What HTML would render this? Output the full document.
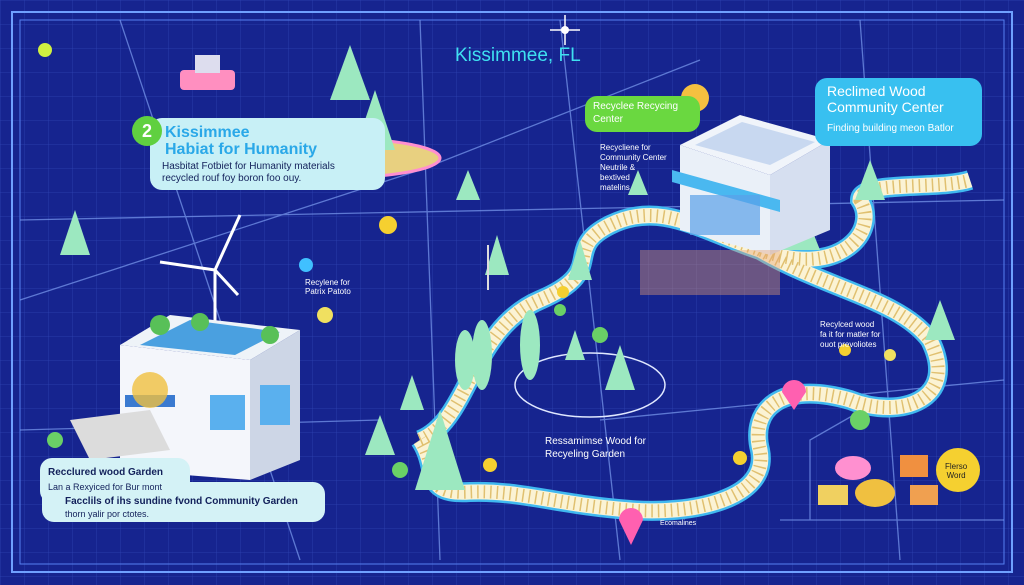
<!DOCTYPE html>
<html><head><meta charset="utf-8"><style>
html,body{margin:0;padding:0;width:1024px;height:585px;overflow:hidden;background:#16248f;font-family:"Liberation Sans",sans-serif}
.card{position:absolute;border-radius:12px;color:#12205a}
</style></head><body>
<svg width="1024" height="585" style="position:absolute;left:0;top:0">
<defs>
<pattern id="g" width="24" height="24" patternUnits="userSpaceOnUse"><path d="M24 0H0V24" fill="none" stroke="#2e44b4" stroke-width="0.7"/></pattern>
</defs>
<rect width="1024" height="585" fill="#16248f"/>
<rect width="1024" height="585" fill="url(#g)"/>
<rect x="12" y="12" width="1000" height="560" fill="none" stroke="#6fa0ff" stroke-width="2"/>
<rect x="20" y="20" width="984" height="544" fill="none" stroke="#5580f0" stroke-width="1"/>
<g stroke="#7c9cf0" stroke-width="1.3" fill="none" opacity="0.7">
<path d="M20 300 L420 170 L700 60"/><path d="M120 20 L200 260 L300 560"/><path d="M420 20 L440 560"/>
<path d="M20 220 L1004 200"/><path d="M560 20 L620 560"/><path d="M860 20 L900 560"/><path d="M20 430 L380 420"/><path d="M600 420 L1004 380"/>
<path d="M780 520 L1004 520"/><path d="M810 520 L810 440 L880 400"/>
</g>
<!-- path -->
<g fill="none">
<path id="p" d="M420 440 C470 420 470 330 540 300 C610 270 560 250 610 225 C660 200 700 230 760 250 C840 280 880 230 860 200 C860 180 940 190 970 180 M760 250 C830 290 900 300 930 340 C960 400 900 420 850 400 C780 380 750 410 760 450 C770 500 690 515 630 510 C560 505 520 490 470 492 C420 495 440 470 420 440" stroke="#40b8f0" stroke-width="20"/>
<path d="M420 440 C470 420 470 330 540 300 C610 270 560 250 610 225 C660 200 700 230 760 250 C840 280 880 230 860 200 C860 180 940 190 970 180 M760 250 C830 290 900 300 930 340 C960 400 900 420 850 400 C780 380 750 410 760 450 C770 500 690 515 630 510 C560 505 520 490 470 492 C420 495 440 470 420 440" stroke="#fbf3d4" stroke-width="15"/>
<path d="M420 440 C470 420 470 330 540 300 C610 270 560 250 610 225 C660 200 700 230 760 250 C840 280 880 230 860 200 C860 180 940 190 970 180 M760 250 C830 290 900 300 930 340 C960 400 900 420 850 400 C780 380 750 410 760 450 C770 500 690 515 630 510 C560 505 520 490 470 492 C420 495 440 470 420 440" stroke="#e0c070" stroke-width="13" stroke-dasharray="1.5 5"/>
</g>
<!-- platform -->
<ellipse cx="330" cy="158" rx="110" ry="20" fill="#e8d080" stroke="#ff8fd0" stroke-width="3"/>
<ellipse cx="590" cy="385" rx="75" ry="32" fill="none" stroke="#e0e8ff" stroke-width="1.5"/>
<!-- trees -->
<g fill="#9ce8c0">
<polygon points="350,45 330,100 370,100"/><polygon points="375,90 355,150 395,150"/><polygon points="75,210 60,255 90,255"/>
<polygon points="468,170 456,200 480,200"/><polygon points="497,235 485,275 509,275"/><polygon points="580,240 568,280 592,280"/>
<ellipse cx="530" cy="345" rx="10" ry="35"/><ellipse cx="465" cy="360" rx="10" ry="30"/><ellipse cx="482" cy="355" rx="10" ry="35"/>
<polygon points="440,410 415,490 465,490"/><polygon points="380,415 365,455 395,455"/><polygon points="412,375 400,410 424,410"/>
<polygon points="870,160 855,200 885,200"/><polygon points="940,300 925,340 955,340"/><polygon points="620,345 605,390 635,390"/>
<polygon points="800,200 780,250 820,250"/><polygon points="575,330 565,360 585,360"/><polygon points="638,170 628,195 648,195"/>
</g>
<g fill="#6ad066"><circle cx="55" cy="440" r="8"/><circle cx="860" cy="420" r="10"/><circle cx="400" cy="470" r="8"/><circle cx="600" cy="335" r="8"/><circle cx="560" cy="310" r="6"/></g>
<g fill="#f5d030"><circle cx="563" cy="292" r="6"/><circle cx="490" cy="465" r="7"/><circle cx="740" cy="458" r="7"/><circle cx="845" cy="350" r="6"/><circle cx="388" cy="225" r="9"/><circle cx="790" cy="225" r="12"/></g>
<!-- wind turbine -->
<line x1="215" y1="270" x2="215" y2="330" stroke="#fff" stroke-width="3"/>
<path d="M215 270 L240 215 M215 270 L160 262 M215 270 L238 295" stroke="#fff" stroke-width="3"/>
<line x1="488" y1="245" x2="488" y2="290" stroke="#ddd" stroke-width="2"/>
<!-- left building -->
<polygon points="120,345 170,315 300,330 250,360" fill="#eef3f8"/>
<polygon points="140,345 190,320 280,332 235,355" fill="#4aa0e0"/>
<circle cx="160" cy="325" r="10" fill="#58c058"/><circle cx="200" cy="322" r="9" fill="#58c058"/><circle cx="270" cy="335" r="9" fill="#58c058"/>
<polygon points="120,345 250,360 250,480 120,470" fill="#f4f6fb"/>
<polygon points="250,360 300,330 300,460 250,480" fill="#cdd6e6"/>
<rect x="210" y="395" width="35" height="35" fill="#5ab0ee"/><rect x="260" y="385" width="30" height="40" fill="#5ab0ee"/>
<polygon points="70,420 150,410 170,450 90,460" fill="#dcdcdc"/>
<rect x="125" y="395" width="50" height="12" fill="#3a7ad0"/>
<circle cx="150" cy="390" r="18" fill="#f0c040" opacity="0.8"/>
<!-- right building -->
<polygon points="680,145 740,115 830,140 770,175" fill="#f0f4fa"/>
<polygon points="695,145 742,122 815,142 770,165" fill="#c8d8f0"/>
<polygon points="680,145 770,175 770,255 680,230" fill="#eaf0f8"/>
<polygon points="770,175 830,140 830,230 770,255" fill="#d6dff0"/>
<polygon points="672,170 780,200 780,212 672,182" fill="#4ab8f0"/>
<rect x="690" y="195" width="70" height="40" fill="#5aa0e8" opacity="0.7"/>
<rect x="640" y="250" width="140" height="45" fill="#e8a070" opacity="0.4"/>
<circle cx="695" cy="98" r="14" fill="#f5c040"/>
<!-- pins & dots -->
<circle cx="45" cy="50" r="7" fill="#d0f040"/><circle cx="325" cy="315" r="8" fill="#f0e060"/>
<circle cx="306" cy="265" r="7" fill="#40c0ff"/><circle cx="890" cy="355" r="6" fill="#f0e060"/>
<path d="M782 392 a12 12 0 1 1 24 0 L794 410Z" fill="#ff60b0"/><path d="M619 520 a12 12 0 1 1 24 0 L631 545Z" fill="#ff60b0"/>
<circle cx="565" cy="30" r="4" fill="#fff"/><path d="M565 15V45M550 30H580" stroke="#fff" stroke-width="1.5"/>
<rect x="180" y="70" width="55" height="20" rx="4" fill="#ff8fc0"/><rect x="195" y="55" width="25" height="18" fill="#dde"/>
<circle cx="958" cy="470" r="22" fill="#f5d030"/>
<ellipse cx="853" cy="468" rx="18" ry="12" fill="#ff90d0"/><ellipse cx="875" cy="493" rx="20" ry="14" fill="#f0c040"/>
<rect x="900" y="455" width="28" height="22" fill="#f09040"/><rect x="818" y="485" width="30" height="20" fill="#f0d060"/><rect x="910" y="485" width="28" height="20" fill="#f0a050"/>
</svg>
<div style="position:absolute;left:455px;top:45px;color:#3fe0f0;font-size:19px">Kissimmee, FL</div>
<div class="card" style="left:150px;top:118px;width:235px;height:72px;background:#c8f0f6">
<div style="position:absolute;left:15px;top:6px;color:#2aa8e8;font-weight:bold;font-size:16px;line-height:17px">Kissimmee<br>Habiat for Humanity</div>
<div style="position:absolute;left:12px;top:43px;font-size:10px;line-height:12px">Hasbitat Fotbiet for Humanity materials<br>recycled rouf foy boron foo ouy.</div></div>
<div style="position:absolute;left:132px;top:116px;width:30px;height:30px;border-radius:50%;background:#60d040;color:#fff;font-weight:bold;font-size:18px;text-align:center;line-height:30px">2</div>
<div class="card" style="left:585px;top:96px;width:115px;height:36px;background:#6ad840;color:#fff;font-size:10px;line-height:13px;padding:4px 0 0 8px;box-sizing:border-box">Recyclee Recycing<br>Center</div>
<div style="position:absolute;left:600px;top:143px;color:#fff;font-size:8px;line-height:10px">Recycliene for<br>Community Center<br>Neutrile &amp;<br>bextived<br>matelins</div>
<div class="card" style="left:815px;top:78px;width:167px;height:68px;background:#38c0f0;color:#fff">
<div style="position:absolute;left:12px;top:5px;font-size:14px;line-height:16px">Reclimed Wood<br>Community Center</div>
<div style="position:absolute;left:12px;top:45px;font-size:10px">Finding building meon Batlor</div></div>
<div style="position:absolute;left:305px;top:278px;color:#fff;font-size:8px">Recylene for<br>Patrix Patoto</div>
<div style="position:absolute;left:820px;top:320px;color:#fff;font-size:8px;line-height:10px">Recylced wood<br>fa it for matler for<br>ouot prevoliotes</div>
<div style="position:absolute;left:545px;top:435px;color:#fff;font-size:10px;line-height:13px">Ressamimse Wood for<br>Recyeling Garden</div>
<div style="position:absolute;left:660px;top:520px;color:#fff;font-size:7px">Ecomalines</div>
<div style="position:absolute;left:945px;top:462px;color:#222;font-size:8px;text-align:center;line-height:9px">Flerso<br>Word</div>
<div class="card" style="left:40px;top:458px;width:150px;height:45px;background:#d4f2f6"></div>
<div class="card" style="left:42px;top:482px;width:283px;height:40px;background:#d4f2f6"></div>
<div style="position:absolute;left:48px;top:466px;font-size:10px;line-height:14px;color:#12205a"><b>Recclured wood Garden</b><br><span style="font-size:9px">Lan a Rexyiced for Bur mont</span></div>
<div style="position:absolute;left:65px;top:496px;font-size:10px;line-height:12px;color:#12205a"><b>Facclils of ihs sundine fvond Community Garden</b><br><span style="font-size:9px">thorn yalir por ctotes.</span></div>
</body></html>
